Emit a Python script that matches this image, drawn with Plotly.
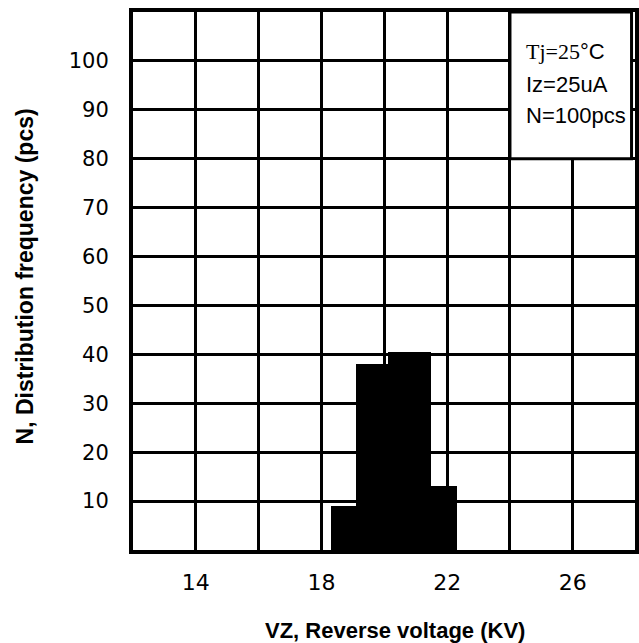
import plotly.graph_objects as go

# ---- data ----
bin_edges = [18.3, 19.1, 20.12, 21.5, 22.3]      # VZ bin edges (KV)
counts = [9, 38, 40.5, 13]                        # N per bin (pcs)
x_tick_vals = [14, 18, 22, 26]
x_tick_text = ["14", "18", "22", "26"]
y_tick_vals = [10, 20, 30, 40, 50, 60, 70, 80, 90, 100]
y_tick_text = ["10", "20", "30", "40", "50", "60", "70", "80", "90", "100"]
note_lines = ['<span style="font-family:Liberation Serif">Tj=25</span>°C', "Iz=25uA", "N=100pcs"]
x_title = "VZ, Reverse voltage (KV)"
y_title = "N, Distribution frequency (pcs)"

centers = [(a + b) / 2 for a, b in zip(bin_edges[:-1], bin_edges[1:])]
widths = [b - a for a, b in zip(bin_edges[:-1], bin_edges[1:])]

W, H = 639, 643
ML, MR, MT, MB = 132.5, 0, 12, 93
PW, PH = W - ML - MR, H - MT - MB


def px(x):
    return (x - ML) / PW


def py(y):
    return (H - MB - y) / PH


fig = go.Figure()
fig.add_trace(go.Bar(x=centers, y=counts, width=widths,
                     marker=dict(color="black", line=dict(width=0)),
                     showlegend=False, hoverinfo="skip"))

fig.update_layout(
    width=W, height=H,
    margin=dict(l=ML, r=MR, t=MT, b=MB),
    paper_bgcolor="white", plot_bgcolor="white",
    bargap=0,
    xaxis=dict(range=[12, 27.98], tickmode="array", tickvals=x_tick_vals, ticktext=x_tick_text,
               showgrid=True, gridcolor="black", gridwidth=3,
               minor=dict(tick0=12, dtick=2, showgrid=True, gridcolor="black", gridwidth=3),
               showline=True, linecolor="black", linewidth=4, mirror=True,
               zeroline=False, ticks="", ticklabelstandoff=10,
               tickfont=dict(family="DejaVu Sans", size=22, color="black")),
    yaxis=dict(range=[0, 110], tickmode="array", tickvals=y_tick_vals, ticktext=y_tick_text,
               showgrid=True, gridcolor="black", gridwidth=3,
               showline=True, linecolor="black", linewidth=4, mirror=True,
               zeroline=False, ticks="", ticklabelstandoff=16,
               tickfont=dict(family="DejaVu Sans", size=21, color="black")),
)

# note box (covers the grid in the top-right corner)
fig.add_shape(type="rect", xref="x", yref="y", x0=24, x1=27.87, y0=80, y1=110,
              fillcolor="white", line=dict(color="black", width=3), layer="above")

note_y = [51.5, 84.5, 116]
for txt, yy in zip(note_lines, note_y):
    fig.add_annotation(text=txt, xref="paper", yref="paper", x=px(527), y=py(yy),
                       xanchor="left", yanchor="middle", showarrow=False,
                       font=dict(family="Liberation Sans", size=22, color="black"))

fig.add_annotation(text="<b>%s</b>" % x_title, xref="paper", yref="paper",
                   x=px(397), y=py(630), xanchor="center", yanchor="middle", showarrow=False,
                   font=dict(family="Liberation Sans", size=22, color="black"))
fig.add_annotation(text="<b>%s</b>" % y_title, xref="paper", yref="paper",
                   x=px(24), y=py(276), xanchor="center", yanchor="middle", showarrow=False,
                   textangle=-90,
                   font=dict(family="Liberation Sans", size=23, color="black"))

fig.write_html("out.html", config={"displayModeBar": False},
               post_script="document.body.style.margin='0px';document.body.style.overflow='hidden';")
